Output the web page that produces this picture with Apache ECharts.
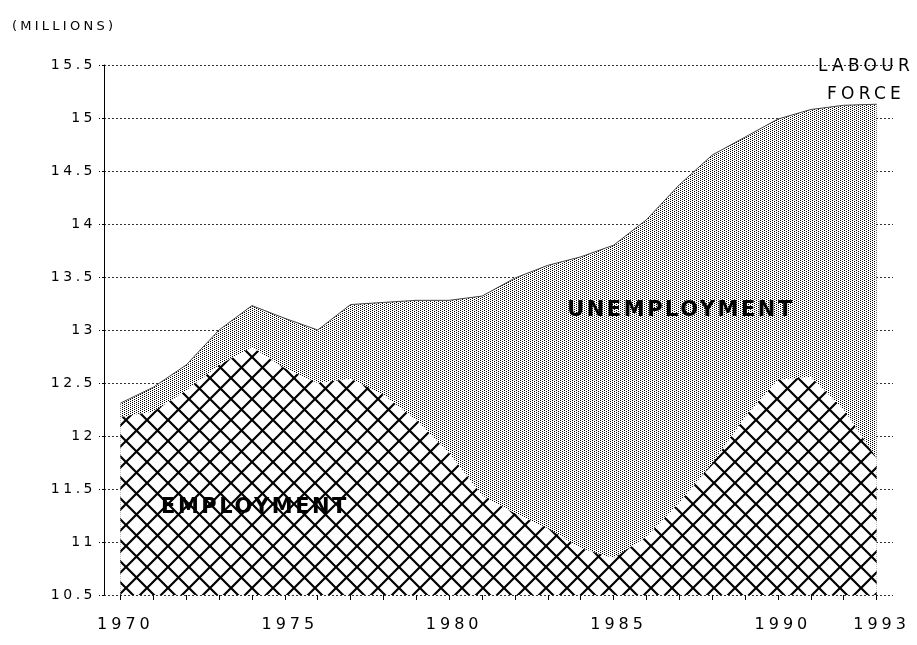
<!DOCTYPE html>
<html>
<head>
<meta charset="utf-8">
<script src="https://cdn.jsdelivr.net/npm/echarts@6/dist/echarts.min.js"></script>
<style>
html,body{margin:0;padding:0;background:#fff;}
#chart{width:917px;height:645px;}
</style>
</head>
<body>
<div id="chart"></div>
<script>
// ---- data ----
const years = ['1970','1971','1972','1973','1974','1975','1976','1977','1978','1979','1980','1981',
               '1982','1983','1984','1985','1986','1987','1988','1989','1990','1991','1992','1993'];
const labourForce = [12.31,12.46,12.67,13.00,13.23,13.11,13.00,13.24,13.26,13.28,13.28,13.32,
                     13.49,13.61,13.69,13.80,14.04,14.37,14.65,14.82,14.99,15.08,15.12,15.13];
const employment  = [12.18,12.23,12.43,12.67,12.84,12.64,12.50,12.54,12.39,12.15,11.84,11.44,
                     11.27,11.13,10.94,10.85,11.05,11.37,11.74,12.18,12.53,12.56,12.25,11.79];
const xLabelYears = ['1970','1975','1980','1985','1990','1993'];
const yMin = 10.5, yMax = 15.5, yStep = 0.5;

// ---- wide letter spacing like the original plotter font ----
(function(){
  const P = CanvasRenderingContext2D.prototype;
  if (!('letterSpacing' in P)) return;
  function sp(ctx){
    const f = ctx.font || '';
    const m = /(\d+(?:\.\d+)?)px/.exec(f);
    const s = m ? parseFloat(m[1]) : 12;
    const k = /bold|700/.test(f) ? 0.12 : 0.25;
    ctx.letterSpacing = (s * k).toFixed(2) + 'px';
  }
  const ft = P.fillText, st = P.strokeText, mt = P.measureText;
  P.fillText = function(){ sp(this); return ft.apply(this, arguments); };
  P.strokeText = function(){ sp(this); return st.apply(this, arguments); };
  P.measureText = function(){ sp(this); return mt.apply(this, arguments); };
})();

// ---- fill patterns ----
function makeHatch(){
  const d = 21, c = document.createElement('canvas');
  c.width = d; c.height = d;
  const g = c.getContext('2d');
  g.fillStyle = '#fff'; g.fillRect(0, 0, d, d);
  g.strokeStyle = '#000'; g.lineWidth = 2.2;
  g.beginPath();
  for (let k = -1; k <= 1; k++) {
    g.moveTo(k * d, 0); g.lineTo(k * d + d, d);
    g.moveTo(k * d + d, 0); g.lineTo(k * d, d);
  }
  g.stroke();
  return c;
}
function makeStipple(){
  const c = document.createElement('canvas');
  c.width = 4; c.height = 4;
  const g = c.getContext('2d');
  g.fillStyle = '#fff'; g.fillRect(0, 0, 4, 4);
  g.fillStyle = '#000';
  [[0,0],[2,1],[0,2],[2,3]].forEach(p => g.fillRect(p[0], p[1], 1, 1));
  return c;
}

const FONT = "'DejaVu Sans', sans-serif";
const chart = echarts.init(document.getElementById('chart'), null, {renderer: 'canvas'});
chart.setOption({
  animation: false,
  backgroundColor: '#fff',
  grid: {left: 104, right: 24, top: 65, bottom: 50},
  xAxis: {
    type: 'category',
    data: years,
    boundaryGap: true,
    axisLine: {show: false},
    axisTick: {show: true, alignWithLabel: true, interval: 0, length: 5,
               lineStyle: {color: '#000', width: 1}},
    axisLabel: {
      interval: function(i, v){ return xLabelYears.indexOf(v) >= 0; },
      margin: 20, fontSize: 16, color: '#000', fontFamily: FONT,
      padding: [0, 0, 0, 10]
    },
    splitLine: {show: false}
  },
  yAxis: {
    type: 'value',
    min: yMin, max: yMax, interval: yStep,
    axisLine: {show: true, lineStyle: {color: '#000', width: 1}},
    axisTick: {show: true, length: 5, lineStyle: {color: '#000', type: [2, 2]}},
    axisLabel: {margin: 8, fontSize: 14, color: '#000', fontFamily: FONT},
    splitLine: {show: true, lineStyle: {color: '#333', width: 1, type: [2, 2]}}
  },
  series: [
    {
      name: 'Labour force',
      type: 'line',
      data: labourForce,
      symbol: 'none',
      silent: true,
      z: 2,
      lineStyle: {color: '#444', width: 1},
      areaStyle: {origin: 'start', opacity: 1, color: {image: makeStipple(), repeat: 'repeat'}}
    },
    {
      name: 'Employment',
      type: 'line',
      data: employment,
      symbol: 'none',
      silent: true,
      z: 3,
      lineStyle: {opacity: 0, width: 0},
      areaStyle: {origin: 'start', opacity: 1, color: {image: makeHatch(), repeat: 'repeat'}}
    }
  ],
  graphic: [
    {type: 'text', left: 12, top: 18, silent: true,
     style: {text: '(MILLIONS)', font: "13px " + FONT, fill: '#000'}},
    {type: 'text', x: 681, y: 311, z: 10, silent: true,
     style: {text: 'UNEMPLOYMENT', font: "bold 21px " + FONT, fill: '#000',
             align: 'center', verticalAlign: 'middle'}},
    {type: 'text', x: 255, y: 508, z: 10, silent: true,
     style: {text: 'EMPLOYMENT', font: "bold 21px " + FONT, fill: '#000',
             align: 'center', verticalAlign: 'middle'}},
    {type: 'text', x: 866, y: 81, z: 10, silent: true,
     style: {text: 'LABOUR\nFORCE', font: "17px " + FONT, fill: '#000', lineHeight: 28,
             align: 'center', verticalAlign: 'middle'}}
  ]
});
</script>
</body>
</html>
